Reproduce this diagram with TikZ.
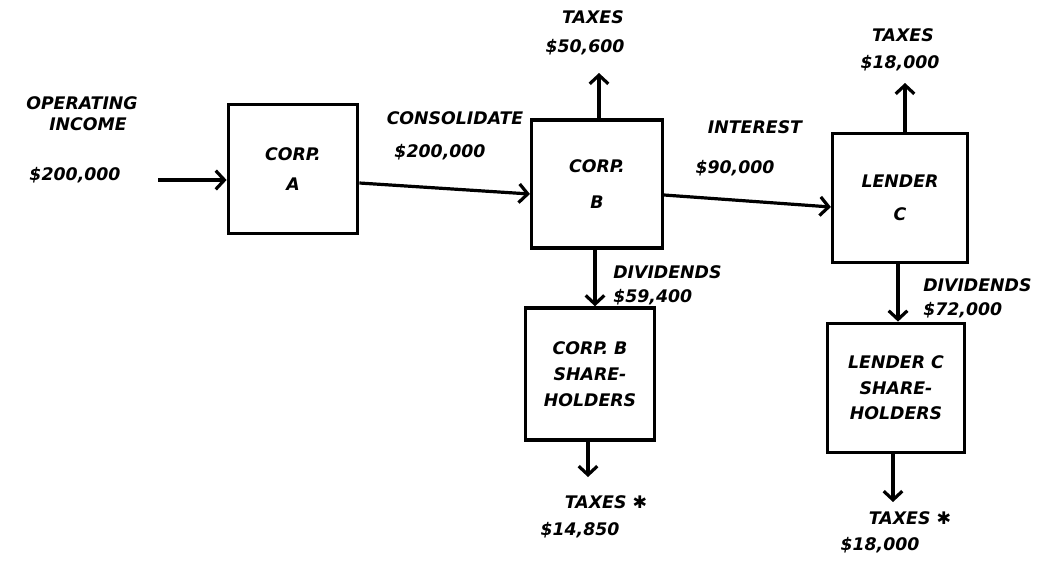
\documentclass[tikz,border=0pt]{standalone}
\usepackage{fontspec}
\setmainfont{DejaVu Sans}
\usetikzlibrary{arrows.meta,calc}
\begin{document}
\begin{tikzpicture}[x=0.75pt,y=-0.75pt,
  lbl/.style={font=\fontsize{13}{16}\selectfont\bfseries\itshape,inner sep=0pt,align=center},
  box/.style={draw,line width=2.6pt,inner sep=0pt,align=center,
    font=\fontsize{13}{#1}\selectfont\bfseries\itshape},
  arr/.style={line width=2.4pt,-{Straight Barb[length=6.5pt,width=14pt,line width=2.4pt]}}]
\useasboundingbox (0,0) rectangle (1057,561);
% boxes
\node[box=22pt,minimum width=97pt,minimum height=97pt] (A) at (293,169)
  {CORP.\\A};
\node[box=27pt,minimum width=98pt,minimum height=96pt] (B) at (597,184)
  {CORP.\\B};
\node[box=25pt,minimum width=101pt,minimum height=97pt] (C) at (900,198)
  {LENDER\\C};
\node[box=19.5pt,minimum width=97pt,minimum height=99pt] (BS) at (590,374)
  {CORP. B\\SHARE-\\HOLDERS};
\node[box=19pt,minimum width=103pt,minimum height=97pt] (CS) at (896,388)
  {LENDER C\\SHARE-\\HOLDERS};
% labels
\node[lbl] (op1) at (82,103) {OPERATING};
\node[lbl] (op2) at (88,124) {INCOME};
\node[lbl] (opv) at (75,175) {\$200,000};
\node[lbl] (cons) at (455,118) {CONSOLIDATE};
\node[lbl] (consv) at (440,152) {\$200,000};
\node[lbl] (tb1) at (593,17) {TAXES};
\node[lbl] (tb2) at (585,47) {\$50,600};
\node[lbl] (int) at (755,127) {INTEREST};
\node[lbl] (intv) at (735,168) {\$90,000};
\node[lbl] (tc1) at (903,35) {TAXES};
\node[lbl] (tc2) at (900,63) {\$18,000};
\node[lbl,anchor=west] (db1) at (613,272) {DIVIDENDS};
\node[lbl,anchor=west] (db2) at (613,297) {\$59,400};
\node[lbl,anchor=west] (dc1) at (923,285) {DIVIDENDS};
\node[lbl,anchor=west] (dc2) at (923,310) {\$72,000};
\node[lbl] (tbs1) at (606,502) {TAXES ✱};
\node[lbl] (tbs2) at (580,530) {\$14,850};
\node[lbl] (tcs1) at (910,518) {TAXES ✱};
\node[lbl] (tcs2) at (880,545) {\$18,000};
% free ends
\coordinate (inc) at (158,180);
\coordinate (tB) at (599,73);
\coordinate (tC) at (905,83);
\coordinate (tBS) at (588,477);
\coordinate (tCS) at (893,502);
% connectors
\draw[arr] (inc) -- (inc -| A.west);
\draw[arr] ($(A.east)+(0,14)$) -- ($(B.west)+(0,10)$);
\draw[arr] ($(B.east)+(0,11)$) -- ($(C.west)+(0,9)$);
\draw[arr] (tB |- B.north) -- (tB);
\draw[arr] (tC |- C.north) -- (tC);
\draw[arr] ($(B.south)+(-2,0)$) -- ($(BS.north)+(5,0)$);
\draw[arr] ($(C.south)+(-2,0)$) -- ($(CS.north)+(2,0)$);
\draw[arr] (tBS |- BS.south) -- (tBS);
\draw[arr] (tCS |- CS.south) -- (tCS);
\end{tikzpicture}
\end{document}
